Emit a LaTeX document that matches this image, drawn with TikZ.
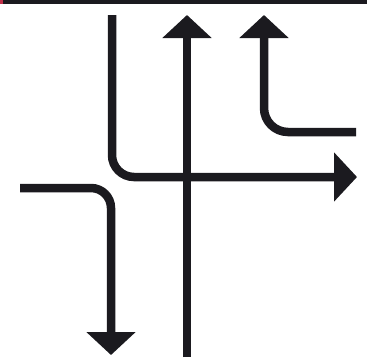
\documentclass[tikz,border=0pt]{standalone}
\usetikzlibrary{arrows.meta}
\definecolor{ink}{HTML}{1B1A1F}
\definecolor{brand}{HTML}{C0304A}

\begin{document}
\begin{tikzpicture}[x=1pt,y=-1pt,line width=8.5pt,
    lane/.style={draw=ink,-{Triangle[length=23pt,width=48pt]}}]
  \useasboundingbox (0,0) rectangle (367,357);
  % top rule
  \fill[ink] (0,0) rectangle (367,3.5);
  \fill[brand] (0,0) rectangle (3,3.5);
  % lanes: start / end
  \coordinate (a0) at (112,15);  \coordinate (a1) at (357,177);
  \coordinate (b0) at (187,357); \coordinate (b1) at (187,15);
  \coordinate (c0) at (356,132); \coordinate (c1) at (264,15);
  \coordinate (d0) at (20,188);  \coordinate (d1) at (111,355);
  \draw[lane,rounded corners=22pt] (a0) |- (a1);
  \draw[lane] (b0) -- (b1);
  \draw[lane,rounded corners=24pt] (c0) -| (c1);
  \draw[lane,rounded corners=20pt] (d0) -| (d1);
\end{tikzpicture}
\end{document}
